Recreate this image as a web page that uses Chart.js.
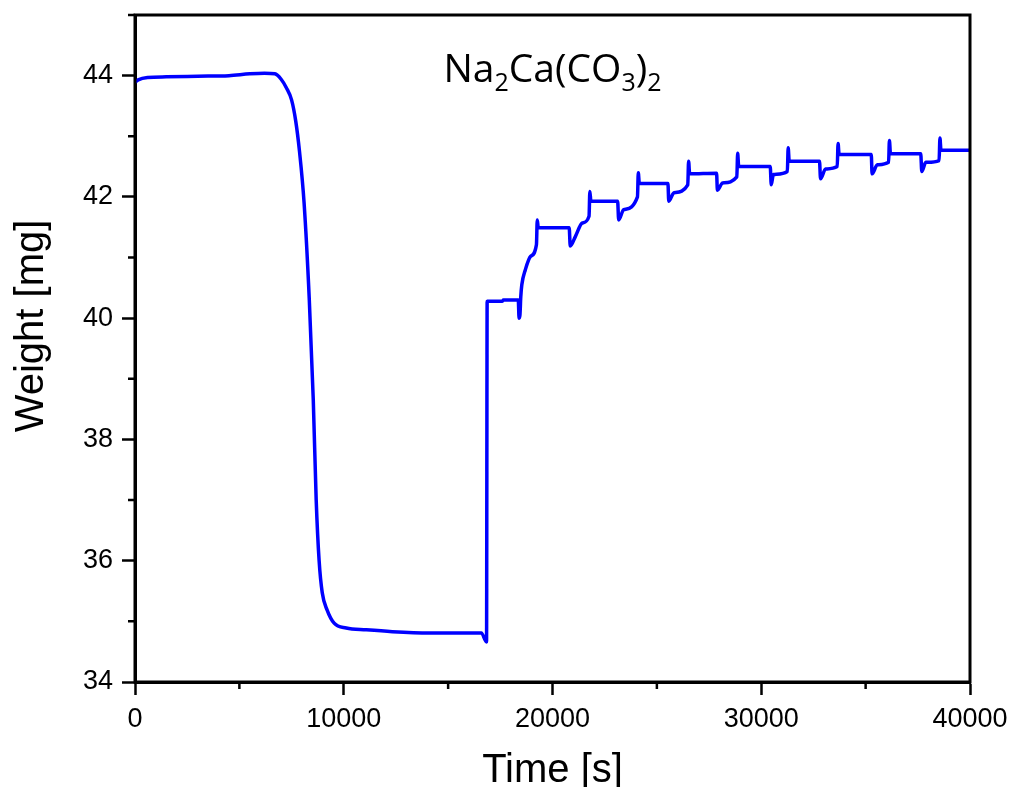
<!DOCTYPE html>
<html>
<head>
<meta charset="utf-8">
<script src="https://cdn.jsdelivr.net/npm/chart.js@4.4.1/dist/chart.umd.min.js"></script>
<style>
  html, body { margin: 0; padding: 0; background: #fff; }
  #wrap { width: 1011px; height: 787px; }
</style>
</head>
<body>
<div id="wrap"><canvas id="tgaChart"></canvas></div>
<script>
// Tempo (s) e massa (mg)
const tempos = [
  0, 150, 600, 1500, 3000, 4500, 5500, 6200, 6700, 7000,
  7250, 7500, 7700, 7880, 8100, 8350, 8540, 8680, 8820,
  8970, 9200, 9540, 10120, 11080, 12330, 14100, 16590, 16840, 16870,
  17600, 17650, 18360, 18400, 18440, 18480, 18530, 18700, 18950, 19230,
  19270, 19320, 20800, 20850, 21100, 21430, 21750, 21790, 21840, 23120,
  23170, 23410, 24070, 24110, 24160, 25530, 25570, 25820, 26480, 26520,
  26570, 27860, 27900, 28150, 28830, 28870, 28920, 30430, 30480, 30580,
  31250, 31290, 31340, 32790, 32840, 33080, 33640, 33680, 33730, 35270,
  35310, 35560, 36100, 36140, 36190, 37640, 37690, 37880, 38520, 38560,
  38610, 40000
];
const pesos = [
  43.89, 43.93, 43.97, 43.98, 43.99, 44.00, 44.03, 44.04, 44.03, 43.94,
  43.80, 43.60, 43.25, 42.75, 41.90, 40.30, 38.65, 37.00, 36.00,
  35.47, 35.19, 34.97, 34.89, 34.86, 34.83, 34.81, 34.81, 34.66, 40.28,
  40.28, 40.30, 40.30, 40.00, 40.05, 40.35, 40.55, 40.80, 41.02, 41.21,
  41.62, 41.49, 41.49, 41.19, 41.35, 41.57, 41.68, 42.09, 41.93, 41.93,
  41.62, 41.79, 42.00, 42.40, 42.22, 42.22, 41.93, 42.07, 42.20, 42.59,
  42.38, 42.39, 42.11, 42.23, 42.33, 42.72, 42.50, 42.50, 42.20, 42.37,
  42.42, 42.81, 42.59, 42.59, 42.30, 42.46, 42.50, 42.88, 42.70, 42.70,
  42.38, 42.53, 42.57, 42.93, 42.71, 42.71, 42.42, 42.57, 42.60, 42.97,
  42.77, 42.77
];

// Marcas dos eixos
const ticksX = [0, 10000, 20000, 30000, 40000];
const ticksXMenores = [5000, 15000, 25000, 35000];
const ticksY = [34, 36, 38, 40, 42, 44];
const ticksYMenores = [35, 37, 39, 41, 43, 45];

const tituloX = 'Time [s]';
const tituloY = 'Weight [mg]';
// formula: [texto, subscrito?]
const formula = [['Na', false], ['2', true], ['Ca(CO', false], ['3', true], [')', false], ['2', true]];

const fonteArial = "'Liberation Sans', Arial, sans-serif";

// Moldura, ticks menores e textos
const extras = {
  id: 'extras',
  afterDraw(chart) {
    const { ctx, chartArea: a, scales: { x, y } } = chart;
    ctx.save();
    ctx.strokeStyle = '#000';
    ctx.lineWidth = 3;
    ctx.strokeRect(a.left, a.top, a.right - a.left, a.bottom - a.top);

    ctx.lineWidth = 2.5;
    ctx.beginPath();
    ticksXMenores.forEach(v => {
      const px = x.getPixelForValue(v);
      ctx.moveTo(px, a.bottom);
      ctx.lineTo(px, a.bottom + 7);
    });
    ticksYMenores.forEach(v => {
      const py = y.getPixelForValue(v);
      ctx.moveTo(a.left, py);
      ctx.lineTo(a.left - 7, py);
    });
    ctx.stroke();

    ctx.fillStyle = '#000';
    ctx.font = '40px ' + fonteArial;
    ctx.textAlign = 'center';
    ctx.textBaseline = 'alphabetic';
    ctx.fillText(tituloX, (a.left + a.right) / 2, 782);

    ctx.save();
    ctx.translate(43, 326);
    ctx.rotate(-Math.PI / 2);
    ctx.fillText(tituloY, 0, 0);
    ctx.restore();

    // Na2Ca(CO3)2
    const fonteNormal = "39px 'Open Sans', sans-serif";
    const fonteSub = "25px 'Open Sans', sans-serif";
    let largura = 0;
    formula.forEach(([t, sub]) => {
      ctx.font = sub ? fonteSub : fonteNormal;
      largura += ctx.measureText(t).width;
    });
    let cx = (a.left + a.right) / 2 - largura / 2;
    const base = a.top + 67;
    ctx.textAlign = 'left';
    formula.forEach(([t, sub]) => {
      ctx.font = sub ? fonteSub : fonteNormal;
      ctx.fillText(t, cx, sub ? base + 9 : base);
      cx += ctx.measureText(t).width;
    });
    ctx.restore();
  }
};

const ctx = document.getElementById('tgaChart').getContext('2d');
new Chart(ctx, {
  type: 'line',
  data: {
    datasets: [
      {
        data: tempos.map((t, i) => ({ x: t, y: pesos[i] })),
        borderColor: '#0000ff',
        borderWidth: 3.5,
        pointRadius: 0,
        cubicInterpolationMode: 'monotone',
        fill: false,
        borderJoinStyle: 'round',
      },
    ],
  },
  options: {
    responsive: true,
    maintainAspectRatio: false,
    animation: false,
    layout: { padding: { top: 15, right: 41, left: 0, bottom: 0 } },
    plugins: {
      legend: { display: false },
      tooltip: { enabled: false },
    },
    scales: {
      x: {
        type: 'linear',
        min: 0,
        max: 40000,
        afterFit: scale => {
          scale.height = 105;
          scale.paddingLeft = 0;
          scale.paddingRight = 0;
        },
        afterBuildTicks: scale => { scale.ticks = ticksX.map(v => ({ value: v })); },
        border: { color: '#000', width: 3 },
        grid: { drawOnChartArea: false, tickLength: 13, tickColor: '#000', tickWidth: 2.5 },
        ticks: {
          color: '#000',
          padding: 8,
          maxRotation: 0,
          font: { size: 27, family: fonteArial },
          callback: v => String(v),
        },
      },
      y: {
        min: 34,
        max: 45,
        afterFit: scale => {
          scale.width = 135;
          scale.paddingTop = 0;
          scale.paddingBottom = 0;
        },
        afterBuildTicks: scale => { scale.ticks = ticksY.map(v => ({ value: v })); },
        border: { color: '#000', width: 3 },
        grid: { drawOnChartArea: false, tickLength: 13, tickColor: '#000', tickWidth: 2.5 },
        ticks: {
          color: '#000',
          padding: 9,
          font: { size: 27, family: fonteArial },
          callback: v => String(v),
        },
      },
    },
  },
  plugins: [extras],
});
</script>
</body>
</html>
